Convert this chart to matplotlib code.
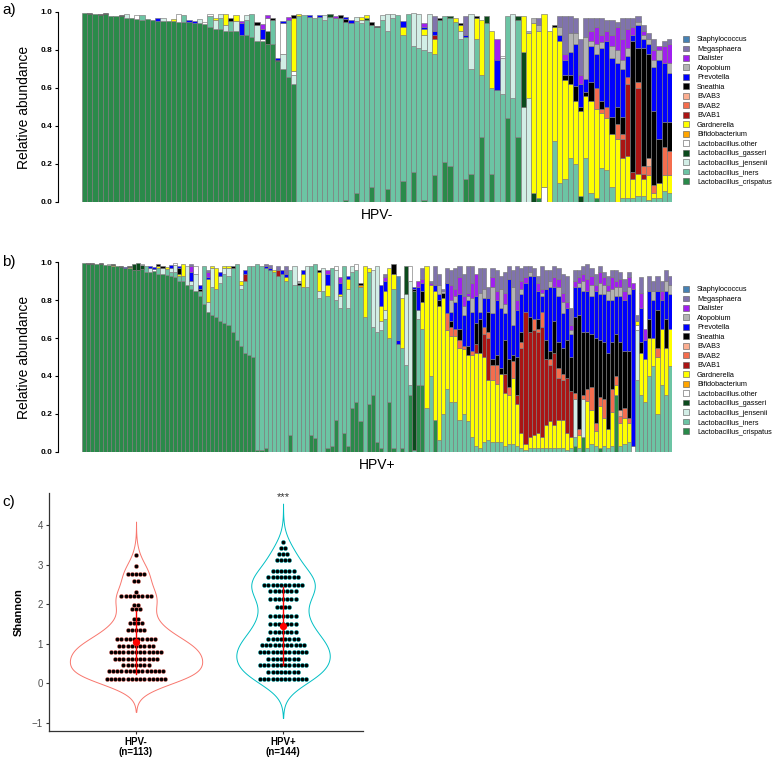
import numpy as np
import matplotlib
matplotlib.use('Agg')
import matplotlib.pyplot as plt
from matplotlib.patches import Patch

plt.rcParams['font.family'] = ['Liberation Sans', 'DejaVu Sans']

# stacking order, bottom -> top
taxa = ['Lactobacillus_crispatus', 'Lactobacillus_iners', 'Lactobacillus_jensenii',
        'Lactobacillus_gasseri', 'Lactobacillus.other', 'Bifidobacterium', 'Gardnerella',
        'BVAB1', 'BVAB2', 'BVAB3', 'Sneathia', 'Prevotella', 'Atopobium', 'Dialister',
        'Megasphaera', 'Staphylococcus']
codes = ['C', 'I', 'J', 'Q', 'O', 'F', 'G', 'V', 'U', 'T', 'N', 'P', 'A', 'D', 'M', 'S']
taxa_colors = ['#2A8A4A', '#6CC4A4', '#D2EEE6', '#0B4A1C', '#FFFFFF', '#FFA500', '#FFFF00',
               '#AA1414', '#F46D4E', '#FCAE91', '#000000', '#0000FF', '#B3B3B3', '#A020F0',
               '#8073AC', '#4682B4']

# relative abundance (%) per sample
hpv_neg_bars = [
    "C99.5", "C99 N0.5", "C99", "C98.5 N0.5", "C99 N0.5", "C98", "C98", "C98 N0.3",
    "C97 J2", "C97", "C96.5 O2", "C96 I2.5", "C96.5", "C96", "C95.5 P1.5", "C95.5 J1.5",
    "C95.5", "C95.5 G1", "C95 O4", "C95 I3.5", "C94.5 P1.5", "C94 P1.5", "C94 J2.5",
    "C93.5 O1", "C92 I6 O1", "C91 J5 G1", "C91 I6 J2", "C90 J3 G6", "C90 I5.5 N1.5",
    "C90 J5.5 G3", "C88 P6 D1.5", "C88 I8 J2.5", "C87 I12", "C85 J8 N1.5",
    "C85 O1 P5 D2.5", "C83 Q7 O7 D1.5", "C83 I13 N1", "C74 N1 P1", "C70 J8 O16 P1",
    "C66 I30 D1.5", "C62 J5 O2 G28 N1.5",
    "I98 G1", "I98.5", "I97.5 P1", "I97", "I97.5 P1", "I96 J2.5", "I97.5 Q1.5", "I97 D1",
    "I97 N1.5", "C1 I94 N1.5 P1", "I94 P2", "C5 I90.5 J2", "I94 J2 G1.5", "I96 G1.5 Q1",
    "C8 I85 N1.5", "I92 N0.5", "I96 J2.5", "C7 I83 J9", "I97 J2", "I98.5",
    "C11 I77 G4 P3.5", "I99", "C16 I66 J17.5", "I81 J18", "C1 I79 J8 G3 P1 D2", "I79 J20",
    "C14 I64 G8 V2 P2 M8", "I96 N1", "C21 I77", "C19 I78 Q1", "I95 G2", "I86 J4 G3 N1",
    "C12 I75 P1 M10", "C15 I55 J29", "I86 G11 N1", "C34 I33 G29", "I94 Q4",
    "C15 I45 G30", "I59 P16 D11", "I57 J19 O1", "C44 I54", "I55 J44", "C34 I62 Q2",
    "J50 Q29 G19", "J55 G34 A1", "Q5 G89 A3", "C2 G88 A3 M4", "O8 G91", "G90",
    "I32 G60 N1", "I10 G75 P3 A4 M6", "I12 G52 N3 P8 D3 M20", "I23 G39 N5 P12 A10 M9",
    "I20 G33 N8 P22 A6 M8", "Q3 G45 N2 P12 D5 M19", "I23 G33 N2 P7 A22 M10",
    "I5 G48 N10 P19 A3 D5 M7", "C2 G47 U11 P18 A5 D9 M5", "I18 G29 U2 N4 P28 A3 D4 M9",
    "I17 G27 U6 P35 D5 M6", "I8 G28 N9 P31 A6 D6 M8", "G33 U8 N9 P23 A7 D12 M3",
    "I2 G21 V10 U3 N9 P25 A5 D11 M11", "I2 G22 V38 U4 P11 A4 D10 M6",
    "I2 G10 V4 N69 P3 D4 M5", "I3 G12 V45 U3 N18 P12 A2 M3",
    "I3 G9 V3 U4 N62 P5 A2 D2 M3", "I1 G13 U5 T4 N55 P5 A3 M3",
    "I2 G3 U4 N39 P23 A4 D5 M6", "I2 G8 N23 P42 A5 D2", "I6 G8 U15 N13 P31 D9 M3",
    "I5 G9 U13 N15 P26 A5 D10 M3",
]

hpv_pos_bars = [
    "C99.5", "C99 N0.5", "C99 N0.5", "C99", "C99 N0.5", "C98.5", "C98.5 O0.5",
    "C98 G0.5 N0.5", "C98", "C97.5 N0.5", "C97 P0.5", "C97 G0.5 N0.5", "C96 Q3",
    "C96 Q3.5", "C96.5 Q2 O0.5", "C95 I3", "C95 J2 P1", "C95.5 P1 O1", "C94 I3 G1 N1",
    "C94 J3 N1", "C93.5 I3 G1", "C93 I2 J2 P1.5", "C92 I3 J3.5 O1", "C90 I3 G1 N3 P1",
    "C90 I3 G6", "C88 J10", "C86 I2 J2 P5 D3 M1", "C85 J9 O4", "C82 I3 N1 P2", "C78 I20",
    "C74 J5 G12 P1 D3 M1", "C72 I15 J10 G1", "C71 I15 G11", "C69 I20 J4 P2",
    "C68 I26 J3 G1", "C67 I26 J4 G1", "C63 I34 N1", "C59 I40", "C56 I30 J2 G2",
    "C52 I38 V4 P2", "C51 I47", "C50 I48",
    "C1 I98", "C1 I97", "C2 I95 P1 M1", "I96 P1 M1.5", "I95 G1", "I93 V3 M2", "I94 P2",
    "I90 G2 P2 M4", "C9 I87", "I88 J10", "I88 A1 N1", "I87 G7 P2", "I87 J11", "C9 I89",
    "C7 I92", "I81 J4 G10 N1", "I85 J12", "C2 I80 G6 P6 D2", "C3 I94", "C17 I63 J16 O2",
    "I76 J6 G1 P6 D3", "C10 I88", "C3 I73 J10 G5 P2", "C23 I72 J3", "C26 I70 O3",
    "C16 I71 N1 F1", "I71 G27", "C25 I70 G2", "C30 I36 J30", "C5 I58 J35",
    "C2 I62 J5 G8 P11", "I70 J5 G10 P5 D2 M2", "C26 I34 G37", "C2 I84 G8 N5",
    "I57 P2 S34", "C2 I53 G26", "I46 J37 Q15", "C30 I5 J55 O8", "Q84 I1 P1 N1",
    "C35 I35 J5 P12 D3", "C35 I30 G14 N6 P4 D2 M6",
    "I23 G75", "I40 G48 D1 M1", "C17 G68 P3 M10", "I6 G71 N3 P3 A5 M6",
    "I20 G61 N3 A1 M1", "I33 G31 U9 P16 M8", "I26 G35 U5 N3 P5 A6 D8 M8",
    "I26 G35 U4 P14 A3 D4 M11", "I17 G38 U4 N6 P18 D9 M6", "I20 G34 U2 P16 A5 D5 M12",
    "I16 G35 N5 P24 A2 D2 M14", "I8 G43 U2 P21 A7 D8 M9", "I3 G49 V5 N11 P14 D12",
    "I2 G50 N18 P4 A10 M13", "I5 G45 V12 U4 P15 A5 M11", "I6 G32 V22 U3 N11 P7 M6",
    "I5 G33 U8 N3 P24 A14 D5 M5", "I5 G31 U10 N5 P29 D5 M11", "I5 G36 N3 P32 A10 M7",
    "I3 G28 V10 N18 P14 A5 D6 M11", "I4 G26 U4 N15 P42 M7", "I4 G35 U9 N3 P16 A20 M9",
    "I3 G22 V5 N20 P25 D5 M18",
    "I2 G8 V45 U3 N5 P20 A3 D4 M7", "I1 G3 V70 P15 D3 M6", "I2 G6 V55 N8 P22 A2 M3",
    "I2 G7 V55 U6 P23 M4", "I2 G8 V53 U2 N5 P15 D4 M4", "I2 G6 V58 U8 P8 A2 D2 M12",
    "I2 G12 V35 N10 P27 M10", "I2 G14 V30 U3 N4 P34 A3 M6", "I2 G12 V38 N17 P18 D5 M6",
    "I2 G15 V22 U5 N14 P24 A5 D4 M6", "I2 G15 V21 U3 N14 P18 A6 D5 M10",
    "I1 G9 V29 N20 P17 D3 M14", "I2 G6 V24 N18 P12 A2 D3 M9",
    "C3 I5 J20 U3 N40 P16 D3 M6", "I2 G7 U3 N60 P15 A2 D3 M4", "C8 J20 U2 N33 P22 A5 D4 M4",
    "I2 G25 U6 N30 P22 D6 M8", "I4 G18 U12 N28 P20 A6 D5 M4", "I3 G8 U4 N45 P25 D3 M6",
    "C2 G22 U5 N30 P24 A6 D6 M3", "I3 G15 U10 N30 P25 A5 D4 M3", "I2 G10 N40 P28 A5 D3 M5",
    "I3 G18 U12 N25 P22 A6 D6 M4", "C30 G5 U5 N22 P20 A5 D3 M6",
    "I3 G12 T3 U4 N36 P24 A5 D4 M4", "I4 G14 U5 N30 P27 D5 M6", "I5 G10 U3 N35 P30 A4 D5 M3",
    "O3 P83 D3", "I38 J26 O3 G2 M3", "I30 G22 N6 P18 D8 M8", "I26 G23 P10 D6",
    "I40 G20 N10 P15 M8", "I45 G15 P20 A5 M5", "I20 G30 U5 N20 P10 M8",
    "I35 G30 P15 D5 M5", "I30 G25 N15 P15 A5 M6", "I45 G20 P18 A5 M5",
]

# Shannon index: dot rows (value, number of dots)
neg_levels = [0.12, 0.30, 0.45, 0.62, 0.78, 0.95, 1.12, 1.35, 1.52, 1.64, 1.87, 1.98,
              2.20, 2.32, 2.59, 2.78, 2.98, 3.25]
neg_counts = [15, 14, 7, 11, 13, 9, 10, 5, 4, 2, 3, 2, 8, 1, 2, 5, 1, 1]
pos_levels = [0.10, 0.28, 0.45, 0.61, 0.78, 0.96, 1.12, 1.29, 1.50, 1.70, 1.92, 2.13,
              2.33, 2.49, 2.68, 2.85, 3.13, 3.27, 3.42, 3.57]
pos_counts = [12, 8, 12, 8, 12, 11, 8, 7, 7, 7, 4, 7, 7, 10, 8, 6, 4, 3, 2, 1]
groups = ['HPV-\n(n=113)', 'HPV+\n(n=144)']
group_colors = ['#F8766D', '#00BFC4']


def to_matrix(samples):
    m = np.zeros((len(codes), len(samples)))
    for j, s in enumerate(samples):
        for tok in s.split():
            m[codes.index(tok[0]), j] = float(tok[1:]) / 100.0
    return m


def stacked(ax, samples, title):
    mat = to_matrix(samples)
    x = np.arange(mat.shape[1])
    bottom = np.zeros(mat.shape[1])
    for k in range(len(codes)):
        sel = mat[k] > 0
        ax.bar(x[sel], mat[k][sel], bottom=bottom[sel], width=1.0,
               color=taxa_colors[k], edgecolor='#7A7A7A', linewidth=0.45)
        bottom += mat[k]
    ax.set_xlim(-0.5, len(x) - 0.5)
    ax.set_ylim(0, 1)
    for sp in ['top', 'right', 'bottom']:
        ax.spines[sp].set_visible(False)
    ax.spines['left'].set_position(('outward', 17))
    ax.spines['left'].set_bounds(0, 1)
    ax.spines['left'].set_linewidth(0.8)
    ax.set_xticks([])
    ax.set_yticks([0, 0.2, 0.4, 0.6, 0.8, 1.0])
    ax.set_yticklabels(['0.0', '0.2', '0.4', '0.6', '0.8', '1.0'],
                       fontsize=6, fontweight='bold')
    ax.tick_params(axis='y', length=2.5, width=0.8, pad=2)
    ax.set_ylabel('Relative abundance', fontsize=10, labelpad=7)
    ax.text(0.5, -0.068, title, transform=ax.transAxes, ha='center', va='center',
            fontsize=10)
    handles = [Patch(facecolor=taxa_colors[k], edgecolor='#555555', linewidth=0.4,
                     label=taxa[k]) for k in range(len(taxa) - 1, -1, -1)]
    ax.legend(handles=handles, loc='center left', bbox_to_anchor=(1.0186, 0.48),
              frameon=False, fontsize=5.2, handlelength=0.85, handleheight=0.85,
              handletextpad=1.1, labelspacing=0.29, borderpad=0, borderaxespad=0)


def kde_curve(vals):
    n = len(vals)
    sd = vals.std(ddof=1)
    q75, q25 = np.percentile(vals, [75, 25])
    bw = 0.9 * min(sd, (q75 - q25) / 1.34) * n ** -0.2
    grid = np.linspace(vals.min() - 3 * bw, vals.max() + 3 * bw, 512)
    dens = np.exp(-0.5 * ((grid[:, None] - vals[None, :]) / bw) ** 2).sum(1)
    dens /= n * bw * np.sqrt(2 * np.pi)
    return grid, dens


fig = plt.figure(figsize=(7.79, 7.58), dpi=100)

ax_a = fig.add_axes([82 / 779, 1 - 202 / 758, 590 / 779, 190 / 758])
stacked(ax_a, hpv_neg_bars, 'HPV-')
ax_b = fig.add_axes([82 / 779, 1 - 451.7 / 758, 590 / 779, 189.4 / 758])
stacked(ax_b, hpv_pos_bars, 'HPV+')

fig.text(2 / 779, 1 - 10 / 758, 'a)', fontsize=11, ha='left', va='center')
fig.text(2 / 779, 1 - 262 / 758, 'b)', fontsize=11, ha='left', va='center')
fig.text(2 / 779, 1 - 502 / 758, 'c)', fontsize=11, ha='left', va='center')

# panel c: violins with dots
ax_c = fig.add_axes([49 / 779, 1 - 731 / 758, 314 / 779, 238 / 758])
data = [np.repeat(neg_levels, neg_counts), np.repeat(pos_levels, pos_counts)]
curves = [kde_curve(np.asarray(d, dtype=float)) for d in data]
dmax = max(c[1].max() for c in curves)
dot_step = 0.0286
for i, (d, (grid, dens)) in enumerate(zip(data, curves)):
    xc = i + 1
    half = dens / dmax * 0.45
    ax_c.fill_betweenx(grid, xc - half, xc + half, facecolor='white',
                       edgecolor=group_colors[i], linewidth=0.7, zorder=1)
    levels = neg_levels if i == 0 else pos_levels
    counts = neg_counts if i == 0 else pos_counts
    for lv, ct in zip(levels, counts):
        xs = xc + (np.arange(ct) - (ct - 1) / 2.0) * dot_step
        ax_c.scatter(xs, np.full(ct, lv), s=9, facecolor='black',
                     edgecolor=group_colors[i], linewidth=0.3, zorder=2)
    m, s = np.mean(d), np.std(d, ddof=1)
    ax_c.plot([xc, xc], [m - s, m + s], color='red', linewidth=1.0, zorder=3)
    ax_c.scatter([xc], [m], s=18, color='red', zorder=4)

ax_c.text(2, 4.72, '***', ha='center', va='center', fontsize=8, color='#333333')
ax_c.set_xlim(0.408, 2.544)
ax_c.set_ylim(-1.21, 4.82)
ax_c.set_xticks([1, 2])
ax_c.set_xticklabels(groups, fontsize=7, fontweight='bold', linespacing=0.95)
ax_c.set_yticks([-1, 0, 1, 2, 3, 4])
ax_c.set_yticklabels(['\u22121', '0', '1', '2', '3', '4'], fontsize=7, color='#4D4D4D')
ax_c.tick_params(axis='both', length=2.5, width=0.8, color='#333333', pad=2)
ax_c.set_ylabel('Shannon', fontsize=8, fontweight='bold', labelpad=6)
for sp in ['top', 'right']:
    ax_c.spines[sp].set_visible(False)
for sp in ['left', 'bottom']:
    ax_c.spines[sp].set_color('#333333')
    ax_c.spines[sp].set_linewidth(0.9)

fig.savefig('out.png', dpi=100)
